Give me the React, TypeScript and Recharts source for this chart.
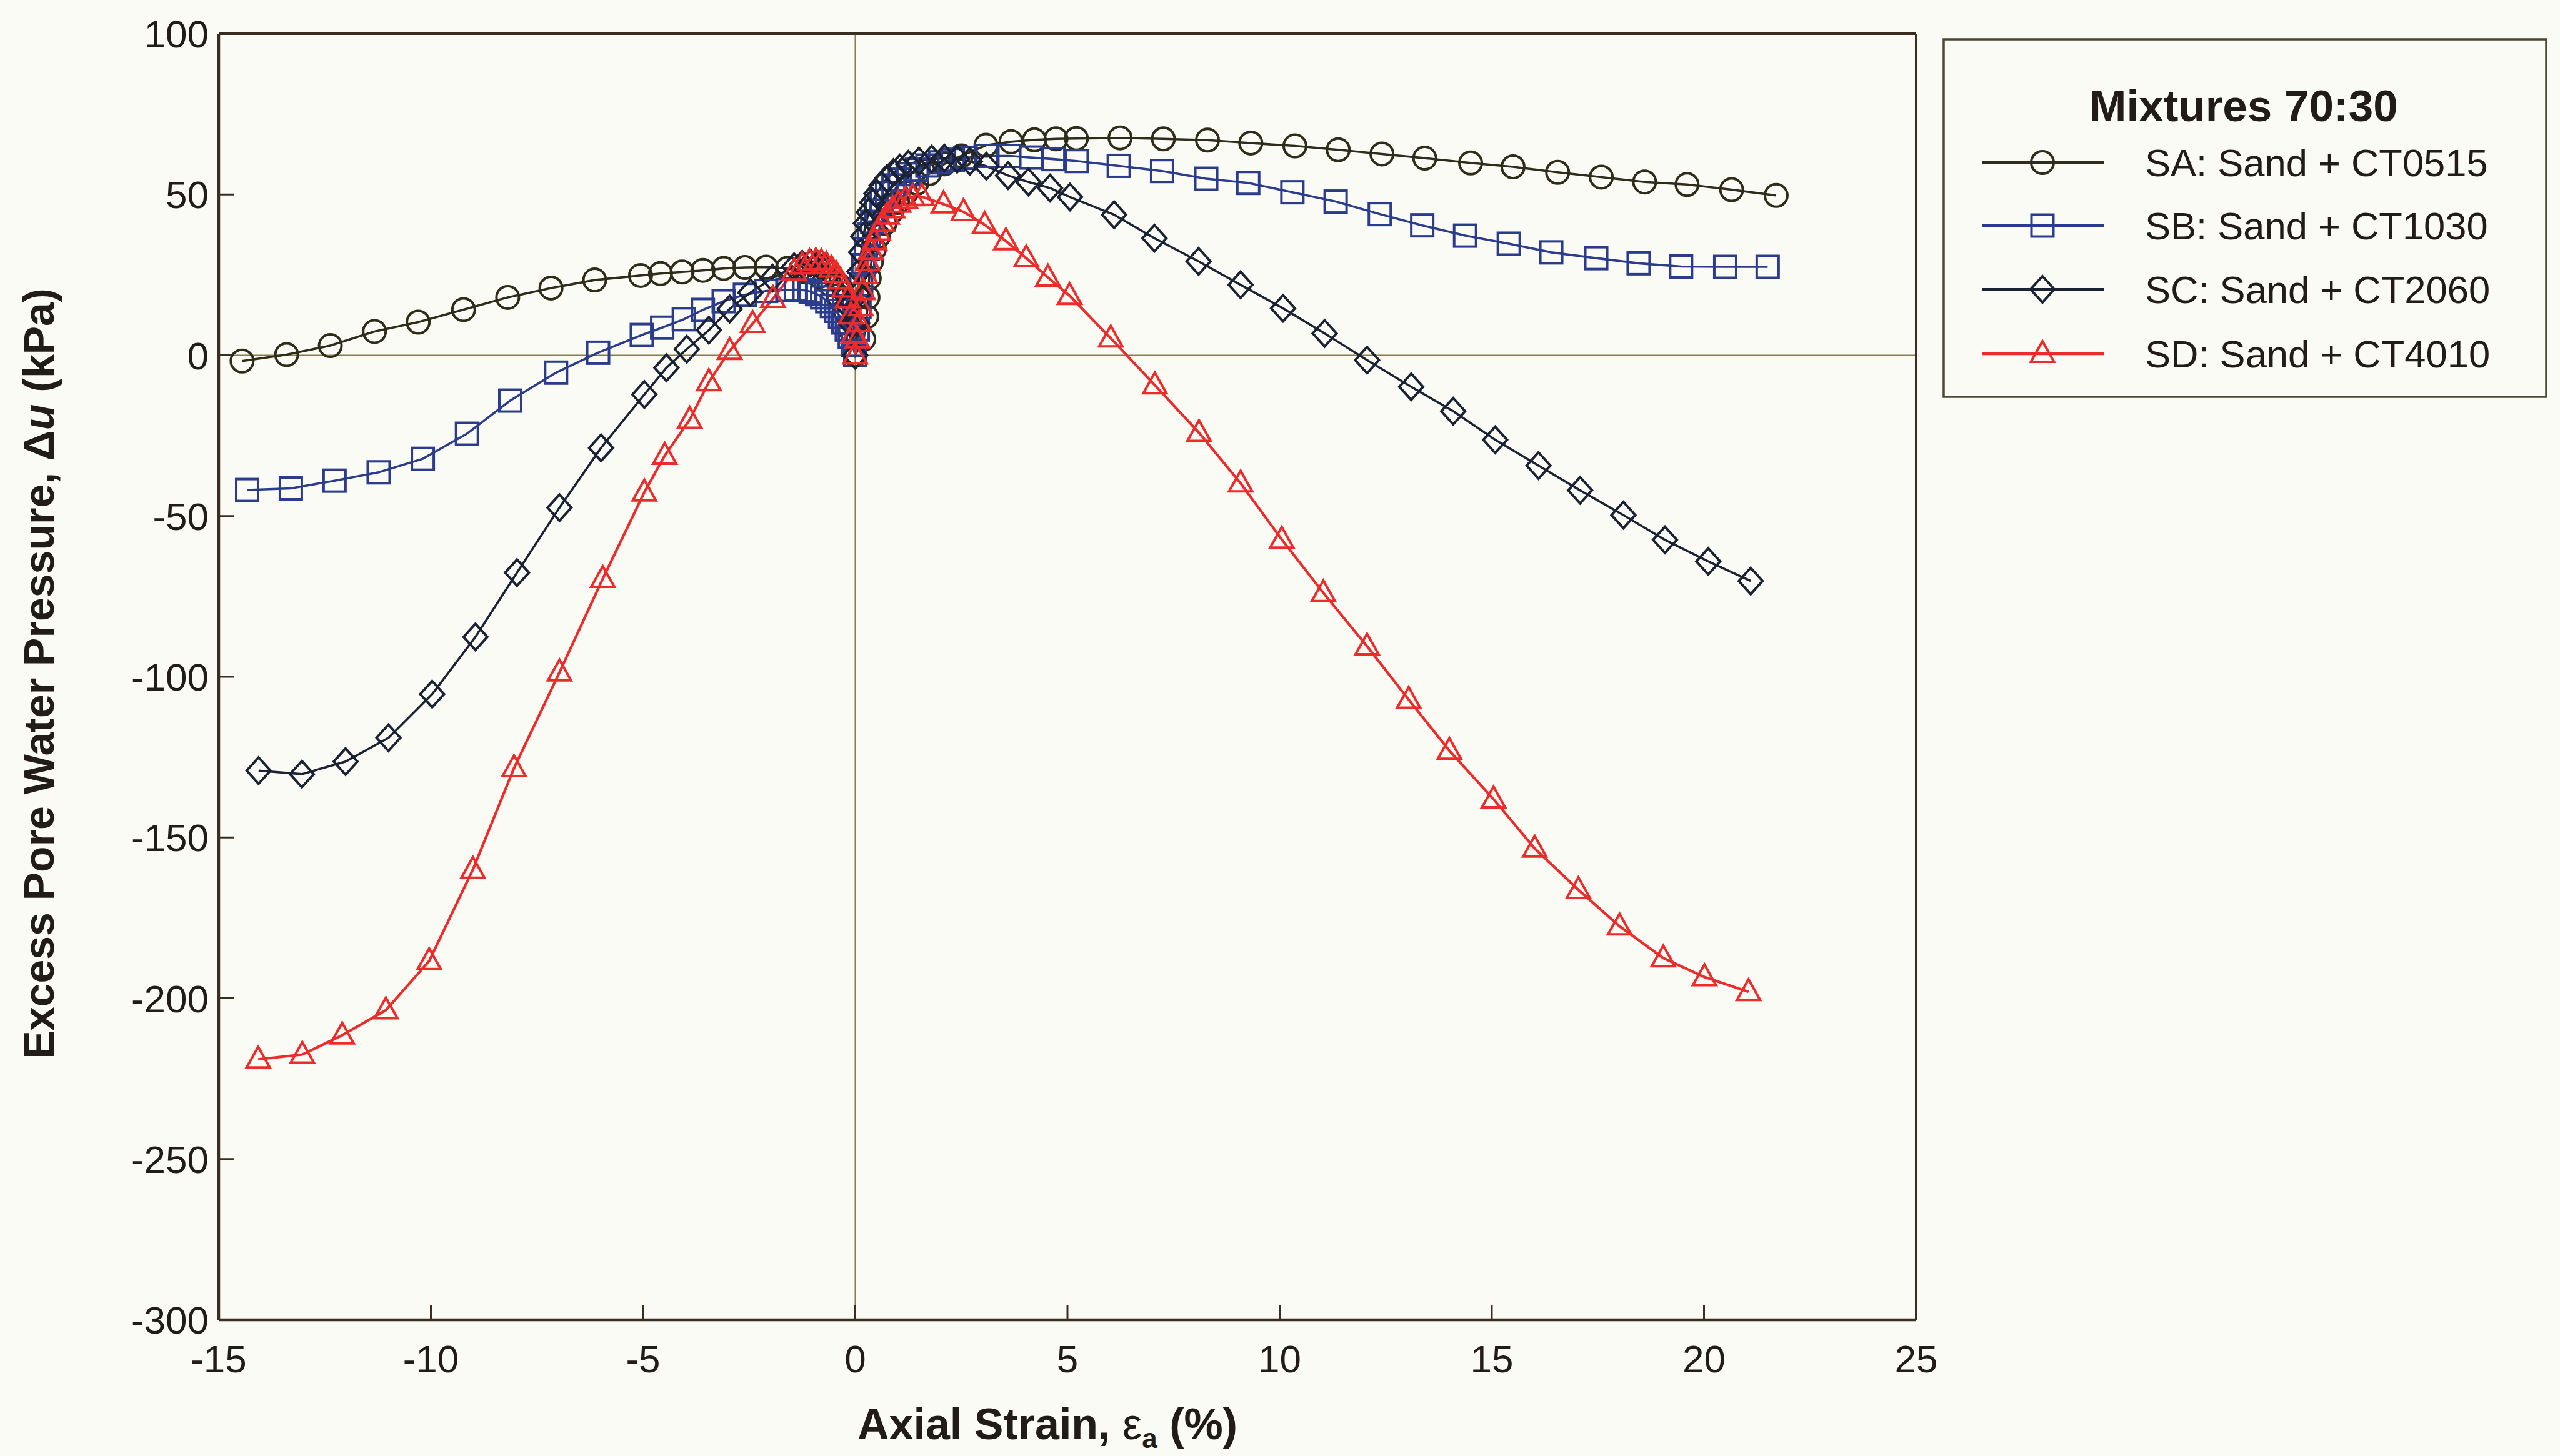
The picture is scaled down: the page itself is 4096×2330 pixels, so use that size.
import React from 'react';
import { LineChart, Line, XAxis, YAxis, ReferenceLine, Legend, Label } from 'recharts';

// ---------- data ----------
const SA_STRAIN = [-14.45, -13.4, -12.37, -11.33, -10.3, -9.23, -8.19, -7.17, -6.14, -5.06, -4.59, -4.08, -3.59, -3.1, -2.6, -2.1, -1.6, -1.2, -0.85, -0.6, -0.4, -0.25, -0.12, 0,
  0.2, 0.27, 0.3, 0.33, 0.38, 0.45, 0.55, 0.7, 0.85, 1.0, 1.2, 1.45, 1.75, 2.1, 2.5, 3.08, 3.67, 4.22, 4.73, 5.21, 6.24, 7.26, 8.3, 9.32, 10.36, 11.38, 12.41, 13.42, 14.5, 15.5, 16.55, 17.58, 18.6, 19.6, 20.65, 21.7];
const SA_PWP = [-1.8, 0.2, 3.0, 7.4, 10.3, 14.2, 18.0, 20.9, 23.4, 24.8, 25.4, 25.9, 26.4, 27.0, 27.3, 27.4, 27.0, 26.0, 24.5, 22.0, 18.5, 14, 8, 0,
  5, 12, 18, 24, 29, 33, 37, 41, 44.5, 47.5, 50.5, 53.5, 56.5, 59.5, 62, 65.3, 66.4, 67.0, 67.3, 67.4, 67.6, 67.3, 66.9, 66.0, 65.1, 63.9, 62.6, 61.3, 59.8, 58.6, 56.9, 55.4, 53.9, 53.1, 51.5, 49.7];

const SB_STRAIN = [-14.33, -13.3, -12.27, -11.23, -10.19, -9.15, -8.13, -7.05, -6.06, -5.03, -4.55, -4.04, -3.59, -3.1, -2.6, -2.1, -1.6, -1.4, -1.2, -1.05, -0.9, -0.78, -0.66, -0.55, -0.45, -0.36, -0.28, -0.2, -0.13, -0.06, 0,
  0.06, 0.1, 0.14, 0.19, 0.25, 0.32, 0.4, 0.5, 0.62, 0.75, 0.9, 1.05, 1.25, 1.45, 1.7, 2.0, 2.3, 2.6, 3.08, 3.63, 4.14, 4.67, 5.22, 6.21, 7.23, 8.27, 9.26, 10.3, 11.32, 12.36, 13.36, 14.37, 15.4, 16.4, 17.46, 18.46, 19.46, 20.5, 21.5];
const SB_PWP = [-41.9, -41.4, -39.0, -36.4, -32.2, -24.4, -14.1, -5.4, 0.8, 6.3, 8.6, 11.2, 14.1, 16.8, 18.8, 20.0, 20.3, 20.4, 20.2, 19.8, 19.0, 18.0, 16.8, 15.3, 13.8, 12.0, 10.2, 8.0, 5.8, 3.2, 0,
  8, 15, 22, 28, 33, 37.5, 41.5, 45, 48, 50.5, 52.8, 54.6, 56.3, 57.7, 59.0, 60.0, 60.8, 61.4, 62.0, 62.0, 61.5, 61.0, 60.4, 58.9, 57.3, 54.9, 53.6, 50.7, 47.8, 43.9, 40.4, 37.2, 34.7, 32.0, 30.2, 28.6, 27.6, 27.5, 27.5];

const SC_STRAIN = [-14.06, -13.04, -12.01, -11.0, -9.97, -8.95, -7.97, -6.97, -5.99, -4.97, -4.45, -3.97, -3.45, -2.96, -2.47, -1.95, -1.44, -1.25, -1.05, -0.88, -0.72, -0.58, -0.46, -0.35, -0.25, -0.16, -0.08, 0,
  0.04, 0.07, 0.1, 0.14, 0.19, 0.25, 0.32, 0.4, 0.5, 0.62, 0.75, 0.9, 1.05, 1.25, 1.5, 1.8, 2.1, 2.4, 2.7, 3.09, 3.6, 4.08, 4.59, 5.06, 6.1, 7.05, 8.09, 9.08, 10.08, 11.06, 12.06, 13.1, 14.09, 15.08, 16.1, 17.08, 18.1, 19.08, 20.1, 21.1];
const SC_PWP = [-129.2, -130.3, -126.4, -119.0, -105.4, -87.6, -67.6, -47.4, -28.8, -12.2, -3.9, 1.9, 7.8, 14.4, 19.5, 24.0, 27.5, 28.3, 28.6, 28.2, 27.3, 25.8, 24.0, 21.8, 19.0, 15.0, 9.5, 0,
  10, 19, 26, 32, 37, 41, 44.5, 47.5, 50.3, 52.8, 55.0, 56.8, 58.2, 59.4, 60.4, 61.0, 61.3, 61.0, 60.3, 58.8, 55.9, 53.9, 52.0, 49.2, 43.7, 36.4, 29.2, 21.9, 14.6, 6.8, -1.5, -9.8, -17.4, -26.3, -34.3, -42, -49.7, -57.4, -64.1, -70.2];

const SD_STRAIN = [-14.07, -13.03, -12.09, -11.06, -10.04, -9.01, -8.04, -6.97, -5.95, -4.97, -4.49, -3.9, -3.45, -2.96, -2.42, -1.94, -1.44, -1.25, -1.08, -0.93, -0.8, -0.68, -0.56, -0.45, -0.35, -0.26, -0.18, -0.1, -0.04, 0,
  0.05, 0.09, 0.13, 0.18, 0.24, 0.3, 0.37, 0.45, 0.54, 0.64, 0.75, 0.88, 1.02, 1.18, 1.35, 1.57, 2.08, 2.55, 3.05, 3.55, 4.03, 4.54, 5.05, 6.02, 7.06, 8.1, 9.08, 10.05, 11.03, 12.06, 13.04, 14.0, 15.04, 16.01, 17.04, 18.01, 19.04, 20.01, 21.05];
const SD_PWP = [-219.0, -217.5, -211.5, -203.7, -188.4, -160.0, -128.4, -98.6, -69.5, -42.6, -31.2, -20.0, -8.3, 1.4, 9.8, 17.6, 26.1, 28.0, 29.0, 29.3, 29.0, 28.2, 27.0, 25.3, 23.3, 20.8, 17.5, 12.5, 6.5, 0,
  5, 10, 15, 20, 25, 29, 32.5, 35.5, 38.5, 41.2, 43.5, 45.5, 47.2, 48.4, 49.2, 49.3, 47.0, 44.6, 40.6, 35.5, 30.2, 24.2, 18.5, 5.3, -9.3, -24.1, -39.8, -57.3, -73.9, -90.5, -107.1, -123.0, -138.1, -153.4, -166.3, -177.6, -187.5, -193.4, -198.0];

const X_TICKS = [-15, -10, -5, 0, 5, 10, 15, 20, 25];
const Y_TICKS = [-300, -250, -200, -150, -100, -50, 0, 50, 100];
const SERIES_NAMES = ['SA: Sand + CT0515', 'SB: Sand + CT1030', 'SC: Sand + CT2060', 'SD: Sand + CT4010'];
const LEGEND_TITLE = 'Mixtures 70:30';
const X_TITLE = 'Axial Strain, ';
const Y_TITLE_A = 'Excess Pore Water Pressure, \u0394';
const Y_TITLE_B = ' (kPa)';

// ---------- styling ----------
const W = 4096;
const H = 2330;
const FONT = '"Liberation Sans", Arial, Helvetica, sans-serif';
const BG = '#fbfbf5';
const FRAME = '#3a2e24';
const ZERO = '#8a7c4e';
const TEXT = '#221c16';
const COLORS = ['#2f2c1c', '#2b3c8e', '#1b2233', '#ee2b2b'];
const SHAPES = ['circle', 'square', 'diamond', 'triangle'];

const toPoints = (xs: number[], ys: number[]) => xs.map((x, i) => ({ x, y: ys[i] }));
const SERIES = [
  toPoints(SA_STRAIN, SA_PWP),
  toPoints(SB_STRAIN, SB_PWP),
  toPoints(SC_STRAIN, SC_PWP),
  toPoints(SD_STRAIN, SD_PWP),
];

function Marker({ shape, cx, cy, color }: { shape: string; cx: number; cy: number; color: string }) {
  const sw = 4;
  if (shape === 'circle') return <circle cx={cx} cy={cy} r={18} fill="none" stroke={color} strokeWidth={sw} />;
  if (shape === 'square') return <rect x={cx - 17.5} y={cy - 17.5} width={35} height={35} fill="none" stroke={color} strokeWidth={sw} />;
  if (shape === 'diamond')
    return <polygon points={`${cx},${cy - 21} ${cx + 19},${cy} ${cx},${cy + 21} ${cx - 19},${cy}`} fill="none" stroke={color} strokeWidth={sw} />;
  return <polygon points={`${cx},${cy - 20} ${cx + 18.5},${cy + 13} ${cx - 18.5},${cy + 13}`} fill="none" stroke={color} strokeWidth={sw} strokeLinejoin="miter" />;
}

const makeDot = (shape: string, color: string) => (props: any) => {
  const { cx, cy, index } = props;
  if (cx == null || cy == null) return <g key={`e-${index}`} />;
  return (
    <g key={`d-${shape}-${index}`}>
      <Marker shape={shape} cx={cx} cy={cy} color={color} />
    </g>
  );
};

const LEG_W = 968;
const LEG_H = 576;
function LegendBox() {
  const rows = [199, 300, 402, 505];
  return (
    <svg width={LEG_W} height={LEG_H} style={{ display: 'block' }}>
      <rect x={2} y={2} width={LEG_W - 4} height={LEG_H - 4} fill={BG} stroke="#4b4736" strokeWidth={3.5} />
      <text x={482} y={133} textAnchor="middle" fontFamily={FONT} fontWeight="bold" fontSize={71} fill={TEXT}>
        {LEGEND_TITLE}
      </text>
      {SERIES_NAMES.map((name, i) => (
        <g key={name}>
          <line x1={64} x2={258} y1={rows[i]} y2={rows[i]} stroke={COLORS[i]} strokeWidth={i === 3 ? 4.5 : 3.8} />
          <Marker shape={SHAPES[i]} cx={160} cy={rows[i]} color={COLORS[i]} />
          <text x={324} y={rows[i] + 22} fontFamily={FONT} fontSize={61.5} fill={TEXT}>
            {name}
          </text>
        </g>
      ))}
    </svg>
  );
}

const tickStyle = { fontFamily: FONT, fontSize: 62, fill: TEXT };

export default function App() {
  return (
    <div style={{ position: 'absolute', left: 0, top: 0, width: W, height: H, background: BG }}>
      <LineChart width={W} height={H} margin={{ top: 54, right: 1030, left: 0, bottom: 0 }}>
        <XAxis
          dataKey="x"
          type="number"
          domain={[-15, 25]}
          ticks={X_TICKS}
          interval={0}
          allowDataOverflow
          height={218}
          tickSize={-24}
          tickMargin={64}
          tick={tickStyle}
          axisLine={{ stroke: FRAME, strokeWidth: 4.5 }}
          tickLine={{ stroke: FRAME, strokeWidth: 3 }}
        >
          <Label
            content={() => (
              <text x={1676} y={2303} textAnchor="middle" fontFamily={FONT} fontWeight="bold" fontSize={70} fill={TEXT}>
                {X_TITLE}
                <tspan fontWeight="normal">{'\u03b5'}</tspan>
                <tspan dy={14} fontSize={44}>a</tspan>
                <tspan dy={-14}>{' (%)'}</tspan>
              </text>
            )}
          />
        </XAxis>
        <YAxis
          type="number"
          domain={[-300, 100]}
          ticks={Y_TICKS}
          interval={0}
          allowDataOverflow
          width={350}
          tickSize={-24}
          tickMargin={40}
          tick={tickStyle}
          axisLine={{ stroke: FRAME, strokeWidth: 4.5 }}
          tickLine={{ stroke: FRAME, strokeWidth: 3 }}
        >
          <Label
            content={() => (
              <text
                x={86}
                y={1078}
                transform="rotate(-90 86 1078)"
                textAnchor="middle"
                fontFamily={FONT}
                fontWeight="bold"
                fontSize={68}
                fill={TEXT}
              >
                {Y_TITLE_A}
                <tspan fontStyle="italic">u</tspan>
                {Y_TITLE_B}
              </text>
            )}
          />
        </YAxis>
        <ReferenceLine x={0} stroke={ZERO} strokeWidth={2} />
        <ReferenceLine y={0} stroke={ZERO} strokeWidth={2} />
        <ReferenceLine x={25} stroke={FRAME} strokeWidth={4} />
        <ReferenceLine y={100} stroke={FRAME} strokeWidth={4} />
        <Legend
          layout="horizontal"
          verticalAlign="middle"
          align="center"
          wrapperStyle={{ left: 3108, top: 61, width: LEG_W, height: LEG_H }}
          content={() => <LegendBox />}
        />
        {SERIES.map((data, i) => (
          <Line
            key={SERIES_NAMES[i]}
            name={SERIES_NAMES[i]}
            data={data}
            dataKey="y"
            type="linear"
            stroke={COLORS[i]}
            strokeWidth={i === 3 ? 4.2 : 3.6}
            dot={makeDot(SHAPES[i], COLORS[i])}
            activeDot={false}
            isAnimationActive={false}
          />
        ))}
      </LineChart>
    </div>
  );
}
